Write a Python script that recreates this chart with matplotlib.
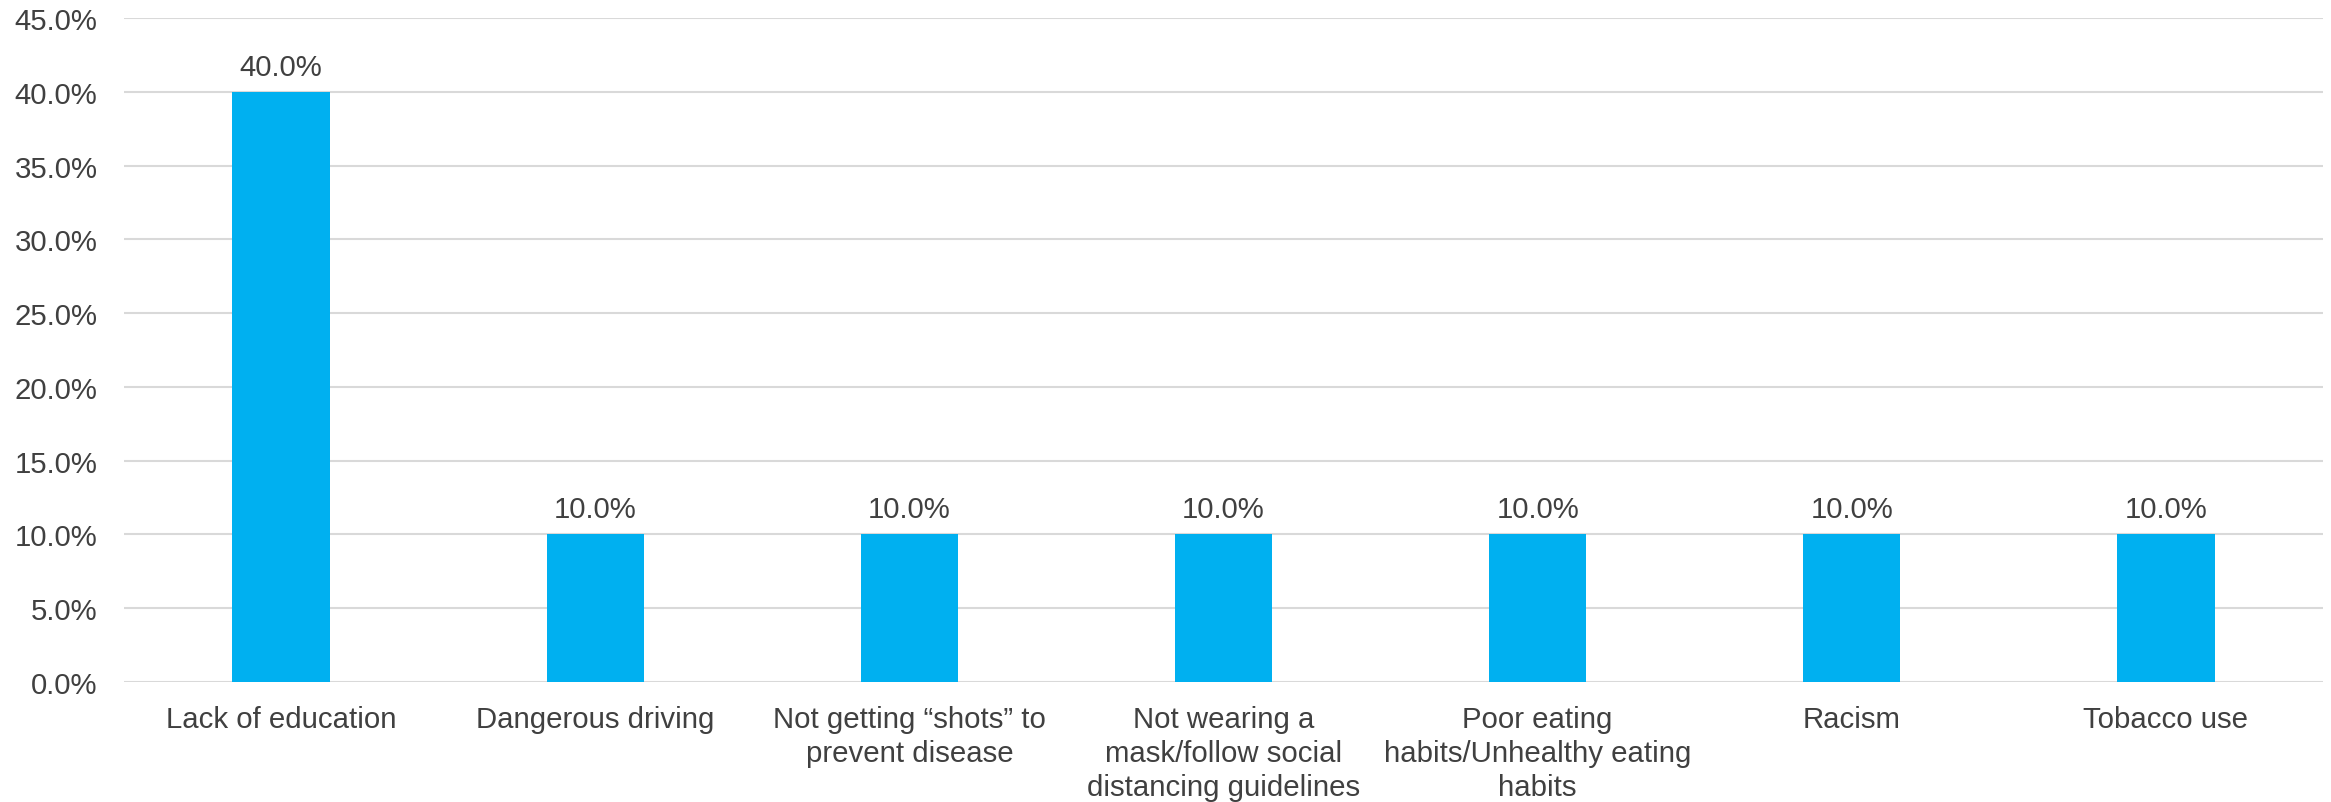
import numpy as np
import matplotlib
matplotlib.use('Agg')
import matplotlib.pyplot as plt
from matplotlib.ticker import FuncFormatter, MultipleLocator

#Categories and the share for each one
categories = ["Lack of education", "Dangerous driving",
              "Not getting \u201cshots\u201d to\nprevent disease",
              "Not wearing a\nmask/follow social\ndistancing guidelines",
              "Poor eating\nhabits/Unhealthy eating\nhabits",
              "Racism", "Tobacco use"]
values = [0.40, 0.10, 0.10, 0.10, 0.10, 0.10, 0.10]

plt.rcParams['font.family'] = ['Liberation Sans', 'DejaVu Sans']
text_col = '#404040'
fs = 21.2

fig = plt.figure(figsize=(23.31, 8.03), dpi=100)
ax = fig.add_axes([124/2331, 1 - 683/803, (2323-124)/2331, (683-19)/803])

x = np.arange(len(categories))
bars = ax.bar(x, values, width=0.31, color='#00B0F0', zorder=3)

#value labels above each bar
for xi, v in zip(x, values):
    ax.annotate(f"{v*100:.1f}%", (xi, v), xytext=(0, 8), textcoords='offset points',
                ha='center', va='bottom', fontsize=fs, color=text_col)

ax.set_xlim(-0.5, len(categories) - 0.5)
ax.set_ylim(0, 0.45)
ax.yaxis.set_major_locator(MultipleLocator(0.05))
ax.yaxis.set_major_formatter(FuncFormatter(lambda v, p: f"{v*100:.1f}%"))
ax.grid(axis='y', color='#d9d9d9', linewidth=1.5, zorder=0)
ax.set_xticks(x)
ax.set_xticklabels(categories, fontsize=fs, color=text_col, linespacing=1.28)
ax.tick_params(axis='both', length=0, labelsize=fs, colors=text_col)
ax.tick_params(axis='x', pad=16.5)
ax.tick_params(axis='y', pad=19)
for s in ax.spines.values():
    s.set_visible(False)

fig.savefig('out.png', dpi=100)
